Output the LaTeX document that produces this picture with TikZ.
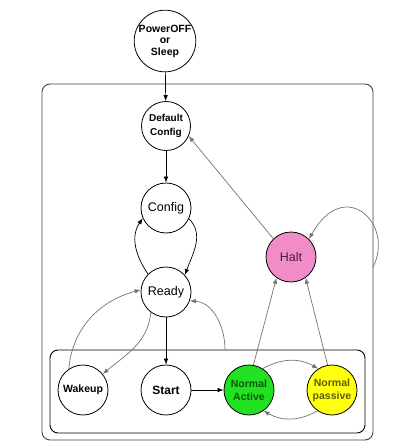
\documentclass[tikz,border=0pt]{standalone}
\usepackage{fontspec}
\setmainfont{Liberation Sans}
\definecolor{haltPink}{HTML}{F08CC8}
\definecolor{activeGreen}{HTML}{22E022}
\definecolor{passiveYellow}{HTML}{FFFF10}
\definecolor{activeText}{HTML}{0A5A0A}
\definecolor{passiveText}{HTML}{5E5E00}
\definecolor{haltText}{HTML}{4A1840}
\colorlet{lgray}{black!55}
\usetikzlibrary{arrows.meta}

\begin{document}
\begin{tikzpicture}[x=1pt,y=1pt,
  state/.style={circle,draw=black,line width=0.8pt,inner sep=0pt,minimum size=50pt,align=center},
  smallbf/.style={font=\fontsize{10.5}{11.5}\selectfont\bfseries},
  bigbf/.style={font=\fontsize{12}{14}\selectfont\bfseries},
  bigrm/.style={font=\fontsize{12.5}{14}\selectfont},
  main/.style={black,line width=0.7pt,-{Latex[length=6pt,width=4.5pt]}},
  side/.style={lgray,line width=0.7pt,-{Latex[length=6pt,width=4.5pt]}},
  box/.style={rounded corners=8pt,line width=0.9pt}]
  \useasboundingbox (0,0) rectangle (400,-447);
  % super states
  \draw[box,draw=black!75] (42,-84) rectangle (373,-440);
  \draw[box,draw=black] (50,-350) rectangle (365,-433);
  \coordinate (outerE) at (373,-267);
  \coordinate (innerN) at (225,-350);
  % states
  \node[state,smallbf,minimum size=60pt] (power) at (165,-41) {PowerOFF\\or\\Sleep};
  \node[state,smallbf,font=\fontsize{10}{14}\selectfont\bfseries,minimum size=49pt] (dflt) at (166,-126) {Default\\Config};
  \node[state,bigrm] (config) at (166,-208) {Config};
  \node[state,bigrm] (ready) at (166,-292) {Ready};
  \node[state,bigrm,fill=haltPink,text=haltText] (halt) at (291,-257) {Halt};
  \node[state,smallbf] (wakeup) at (83,-390) {Wakeup};
  \node[state,bigbf] (start) at (166,-390) {Start};
  \node[state,smallbf,font=\fontsize{10.5}{13}\selectfont\bfseries,fill=activeGreen,text=activeText] (active) at (249,-390) {Normal\\Active};
  \node[state,smallbf,font=\fontsize{10.5}{13}\selectfont\bfseries,fill=passiveYellow,text=passiveText] (passive) at (332,-390) {Normal\\passive};
  % main flow
  \draw[main] (power) -- (dflt);
  \draw[main] (dflt) -- (config);
  \draw[main] (config.-25) to[out=-45,in=70] (ready.42);
  \draw[main] (ready.135) to[out=125,in=235] (config.204);
  \draw[main] (ready) -- (start);
  \draw[main] (start) -- (active);
  % side transitions
  \draw[side] (active.57) to[bend left=30] (passive.123);
  \draw[side] (passive.235) to[bend left=30] (active.305);
  \draw[side] (active.80) -- (halt.235);
  \draw[side] (passive.100) -- (halt.305);
  \draw[side] (halt.134) -- (dflt.-24);
  \draw[side] (outerE) .. controls (395,-225) and (345,-175) .. (halt.45);
  \draw[side] (wakeup.124) to[out=85,in=195] (ready.175);
  \draw[side] (ready.233) to[out=-95,in=40] (wakeup.39);
  \draw[side] (innerN) to[out=90,in=-5] (ready.-20);
\end{tikzpicture}
\end{document}
